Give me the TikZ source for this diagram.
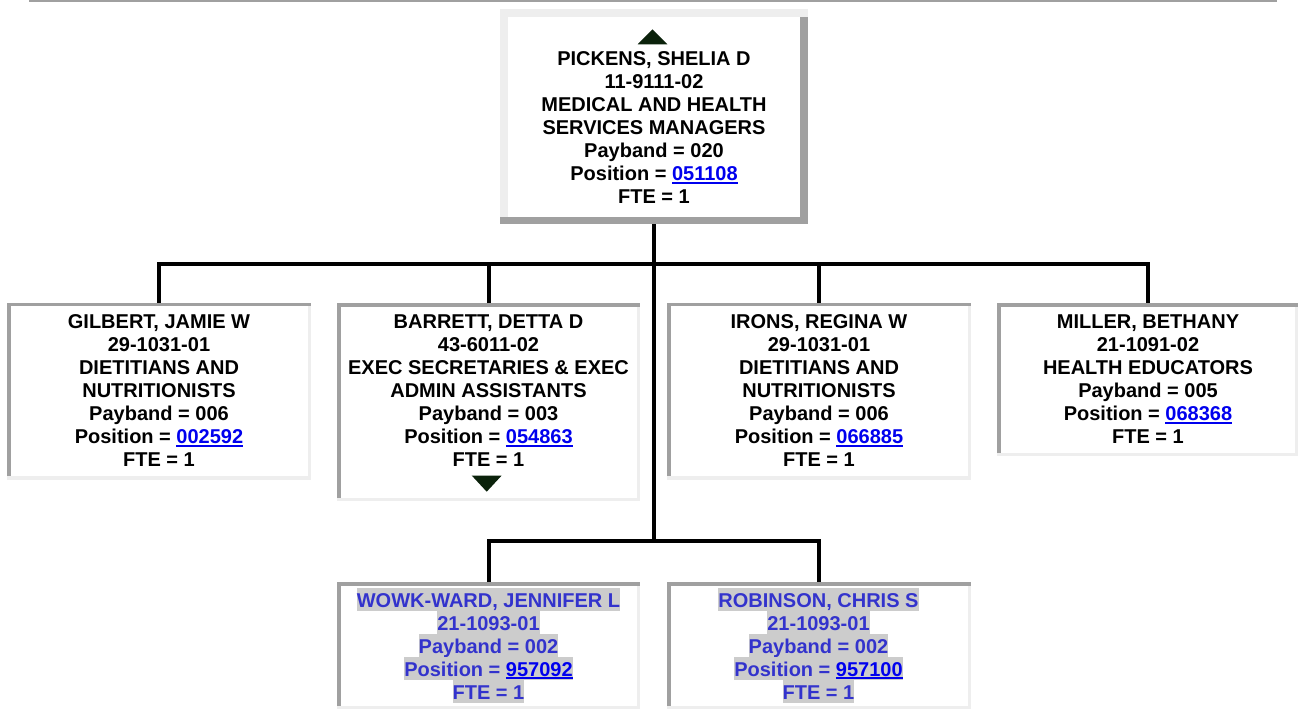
\documentclass[tikz,border=0pt]{standalone}
\usepackage{fontspec}
\setmainfont{Liberation Sans}
\definecolor{darkg}{HTML}{A0A0A0}
\definecolor{lightg}{HTML}{EEEEEE}
\definecolor{hlg}{HTML}{CCCCCC}
\definecolor{linkc}{HTML}{0000EE}
\definecolor{vacc}{HTML}{3333CC}
\definecolor{trig}{HTML}{0B220B}
\newcommand\lnk[1]{{\color{linkc}\setbox0\hbox{#1}\rlap{\rule[-3pt]{\wd0}{2pt}}\box0}}
\newcommand\hlx[1]{{\setlength\fboxsep{0pt}\colorbox{hlg}{\rule[-4pt]{0pt}{23pt}#1}}}
\newcommand\mylsl{\lineskiplimit=-20pt\relax}
\newcommand\insetframe[1]{%
  \fill[lightg] (#1.north west) rectangle (#1.south east);
  \fill[darkg] (#1.north west) rectangle ([yshift=-3.5pt]#1.north east);
  \fill[darkg] (#1.north west) rectangle ([xshift=3.5pt,yshift=3.5pt]#1.south west);
  \fill[white] ([xshift=3.5pt,yshift=-3.5pt]#1.north west) rectangle ([xshift=-3.5pt,yshift=3.5pt]#1.south east);}
\tikzset{
  box/.style={rectangle, draw=none, inner sep=0pt, outer sep=0pt},
  txt/.style={align=center, inner sep=0pt, font=\bfseries\fontsize{20}{23}\selectfont\mylsl},
  conn/.style={draw=black, line width=4pt, line join=miter},
}
\begin{document}
\begin{tikzpicture}[x=1pt,y=-1pt]
\useasboundingbox (0,0) rectangle (1299,709);
\fill[white] (0,0) rectangle (1299,709);
\draw[darkg, line width=1.6pt] (29,1) -- (1277,1);
% box nodes
\node[box, minimum width=308, minimum height=215] (top) at (654,116.5) {};
\node[box, minimum width=304, minimum height=177] (g) at (159,391) {};
\node[box, minimum width=303, minimum height=198] (b) at (488.5,402) {};
\node[box, minimum width=304, minimum height=177] (i) at (819,391) {};
\node[box, minimum width=301, minimum height=153] (m) at (1147.5,379.5) {};
\node[box, minimum width=303, minimum height=127] (w) at (488.5,645.5) {};
\node[box, minimum width=304, minimum height=127] (r) at (819,645.5) {};
% top box (outset)
\fill[darkg] (top.north west) rectangle (top.south east);
\fill[lightg] (top.north west) rectangle ([yshift=-8pt]top.north east);
\fill[lightg] (top.north west) rectangle ([xshift=8pt,yshift=7pt]top.south west);
\fill[white] ([xshift=8pt,yshift=-8pt]top.north west) rectangle ([xshift=-8pt,yshift=7pt]top.south east);
% inset boxes
\insetframe{g}
\insetframe{b}
\insetframe{i}
\insetframe{m}
\insetframe{w}
\insetframe{r}
% connectors
\coordinate (bus1) at (654,264);
\coordinate (bus2) at (654,541);
\draw[conn] (top.south) -- (bus2);
\draw[conn] (g.north) |- (bus1) -| (m.north);
\draw[conn] (b.north) -- (b.north |- bus1);
\draw[conn] (i.north) -- (i.north |- bus1);
\draw[conn] (w.north) |- (bus2) -| (r.north);
% triangles
\fill[trig] (637.7,44.3) -- (652.5,29.3) -- (667.3,44.3) -- cycle;
\fill[trig] (471.7,475.5) -- (501.7,475.5) -- (486.7,491.7) -- cycle;
% texts
\node[txt] (tt) at (654,128) {PICKENS, SHELIA D\\11-9111-02\\MEDICAL AND HEALTH\\SERVICES MANAGERS\\Payband = 020\\Position = \lnk{051108}\\FTE = 1};
\node[txt] (tg) at (159,391) {GILBERT, JAMIE W\\29-1031-01\\DIETITIANS AND\\NUTRITIONISTS\\Payband = 006\\Position = \lnk{002592}\\FTE = 1};
\node[txt] (tb) at (488.5,391) {BARRETT, DETTA D\\43-6011-02\\EXEC SECRETARIES \& EXEC\\ADMIN ASSISTANTS\\Payband = 003\\Position = \lnk{054863}\\FTE = 1};
\node[txt] (ti) at (819,391) {IRONS, REGINA W\\29-1031-01\\DIETITIANS AND\\NUTRITIONISTS\\Payband = 006\\Position = \lnk{066885}\\FTE = 1};
\node[txt] (tm) at (1148,379.5) {MILLER, BETHANY\\21-1091-02\\HEALTH EDUCATORS\\Payband = 005\\Position = \lnk{068368}\\FTE = 1};
\node[txt, text=vacc] (tw) at (488.5,645.5) {\hlx{WOWK-WARD, JENNIFER L}\\\hlx{21-1093-01}\\\hlx{Payband = 002}\\\hlx{Position = \lnk{957092}}\\\hlx{FTE = 1}};
\node[txt, text=vacc] (tr) at (818.5,645.5) {\hlx{ROBINSON, CHRIS S}\\\hlx{21-1093-01}\\\hlx{Payband = 002}\\\hlx{Position = \lnk{957100}}\\\hlx{FTE = 1}};
\end{tikzpicture}
\end{document}
